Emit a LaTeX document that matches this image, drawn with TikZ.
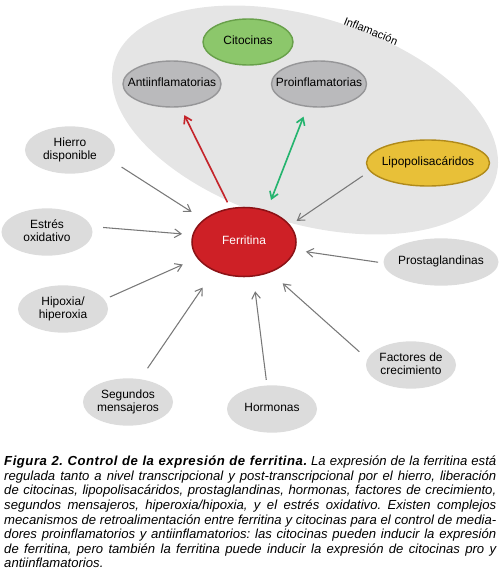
\documentclass[tikz,border=0pt]{standalone}
\usepackage{fontspec}
\setmainfont{Liberation Sans}
\usetikzlibrary{arrows.meta,shapes.geometric}

\definecolor{zonegray}{RGB}{229,229,229}
\definecolor{factorgray}{RGB}{220,220,220}
\definecolor{cytogray}{RGB}{186,186,188}
\definecolor{cytorim}{RGB}{150,150,152}
\definecolor{cytogreen}{RGB}{140,199,107}
\definecolor{greenrim}{RGB}{104,160,74}
\definecolor{lpsyellow}{RGB}{232,192,56}
\definecolor{lpsrim}{RGB}{176,138,26}
\definecolor{ferrred}{RGB}{206,32,38}
\definecolor{ferrrim}{RGB}{140,18,22}
\definecolor{linkgray}{RGB}{120,120,120}
\definecolor{antired}{RGB}{196,36,42}
\definecolor{progreen}{RGB}{36,180,110}

% text kept inside the oval without widening it
\newcommand{\ovaltext}[1]{\makebox[0pt]{\begin{tabular}{@{}c@{}}#1\end{tabular}}}

\begin{document}
\begin{tikzpicture}[x=0.03cm, y=-0.03cm, every node/.style={font=\fontsize{10.2}{11.3}\selectfont, inner sep=0pt}, >={Straight Barb[length=2mm,width=2.6mm]}, factor/.style={ellipse, fill=factorgray, minimum width=2.7cm, minimum height=1.42cm}, cyto/.style={ellipse, line width=1.2pt, minimum height=1.38cm}, link/.style={->, draw=linkgray, line width=0.9pt}, loop/.style={line width=1.4pt}]
	\useasboundingbox (0,0) rectangle (500,585);
	% zona de inflamacion
	\fill[zonegray, rotate around={-17:(305,120)}] (305,120) ellipse [x radius=5.98cm, y radius=3.09cm];
	\node[rotate=-22, font=\fontsize{9.5}{11}\selectfont] (inflam) at (371,31) {Inflamación};
	\node[cyto, fill=cytogreen, draw=greenrim, minimum width=2.7cm] (citocinas) at (248,42) {\ovaltext{Citocinas}};
	\node[cyto, fill=cytogray, draw=cytorim, minimum width=2.94cm] (anti) at (172,84) {\ovaltext{Antiinflamatorias}};
	\node[cyto, fill=cytogray, draw=cytorim, minimum width=2.85cm] (pro) at (319,84) {\ovaltext{Proinflamatorias}};
	\node[cyto, fill=lpsyellow, draw=lpsrim, minimum width=3.69cm] (lps) at (428,163) {\ovaltext{Lipopolisacáridos}};
	% ferritina
	\node[ellipse, fill=ferrred, draw=ferrrim, line width=1.3pt, minimum width=3.12cm, minimum height=2.07cm, text=white] (ferritina) at (244,242) {\ovaltext{Ferritina}};
	% factores que regulan la expresion
	\node[factor] (hierro) at (70,150) {\ovaltext{Hierro\\disponible}};
	\node[factor, minimum width=2.73cm] (estres) at (47,232) {\ovaltext{Estrés\\oxidativo}};
	\node[factor] (hipoxia) at (63,309) {\ovaltext{Hipoxia/\\hiperoxia}};
	\node[factor] (segundos) at (128,402) {\ovaltext{Segundos\\mensajeros}};
	\node[factor] (hormonas) at (272,409) {\ovaltext{Hormonas}};
	\node[factor] (factores) at (411,365) {\ovaltext{Factores de\\crecimiento}};
	\node[factor, minimum width=3.45cm] (prosta) at (441,262) {\ovaltext{Prostaglandinas}};
	\draw[link, shorten <=0.38cm, shorten >=0.42cm] (hierro.-14) -- (ferritina.151);
	\draw[link, shorten <=0.35cm, shorten >=0.31cm] (estres.7) -- (ferritina.172);
	\draw[link, shorten <=0.18cm, shorten >=0.47cm] (hipoxia.13) -- (ferritina.199);
	\draw[link, shorten <=0.39cm, shorten >=0.60cm] (segundos.62) -- (ferritina.224);
	\draw[link, shorten <=0.16cm, shorten >=0.44cm] (hormonas.102) -- (ferritina.-75);
	\draw[link, shorten <=0.32cm, shorten >=0.49cm] (factores.172) -- (ferritina.-49);
	\draw[link, shorten <=0.16cm, shorten >=0.32cm] (prosta.181) -- (ferritina.-9);
	\draw[link, shorten <=0.25cm, shorten >=0.23cm] (lps.188) -- (ferritina.20);
	% retroalimentacion
	\draw[->, loop, antired, shorten <=0.19cm, shorten >=0.26cm] (ferritina.112) -- (anti.-70);
	\draw[<->, loop, progreen, shorten <=0.33cm, shorten >=0.31cm] (ferritina.54) -- (pro.243);
	% pie de figura
	\node[anchor=north west, text width=14.76cm, align=justify, font=\fontsize{11.2}{12.4}\selectfont\itshape] (caption) at (4,456) {\frenchspacing\hyphenpenalty=10000\emergencystretch=2em{\bfseries\addfontfeature{LetterSpace=4}Figura 2. Control de la expresión de ferritina.} La expresión de la ferritina está\linebreak regulada tanto a nivel transcripcional y post-transcripcional por el hierro, liberación\linebreak de citocinas, lipopolisacáridos, prostaglandinas, hormonas, factores de crecimiento,\linebreak segundos mensajeros, hiperoxia/hipoxia, y el estrés oxidativo. Existen complejos\linebreak mecanismos de retroalimentación entre ferritina y citocinas para el control de media-\linebreak dores proinflamatorios y antiinflamatorios: las citocinas pueden inducir la expresión\linebreak de ferritina, pero también la ferritina puede inducir la expresión de citocinas pro y\linebreak antiinflamatorios.};
\end{tikzpicture}
\end{document}
